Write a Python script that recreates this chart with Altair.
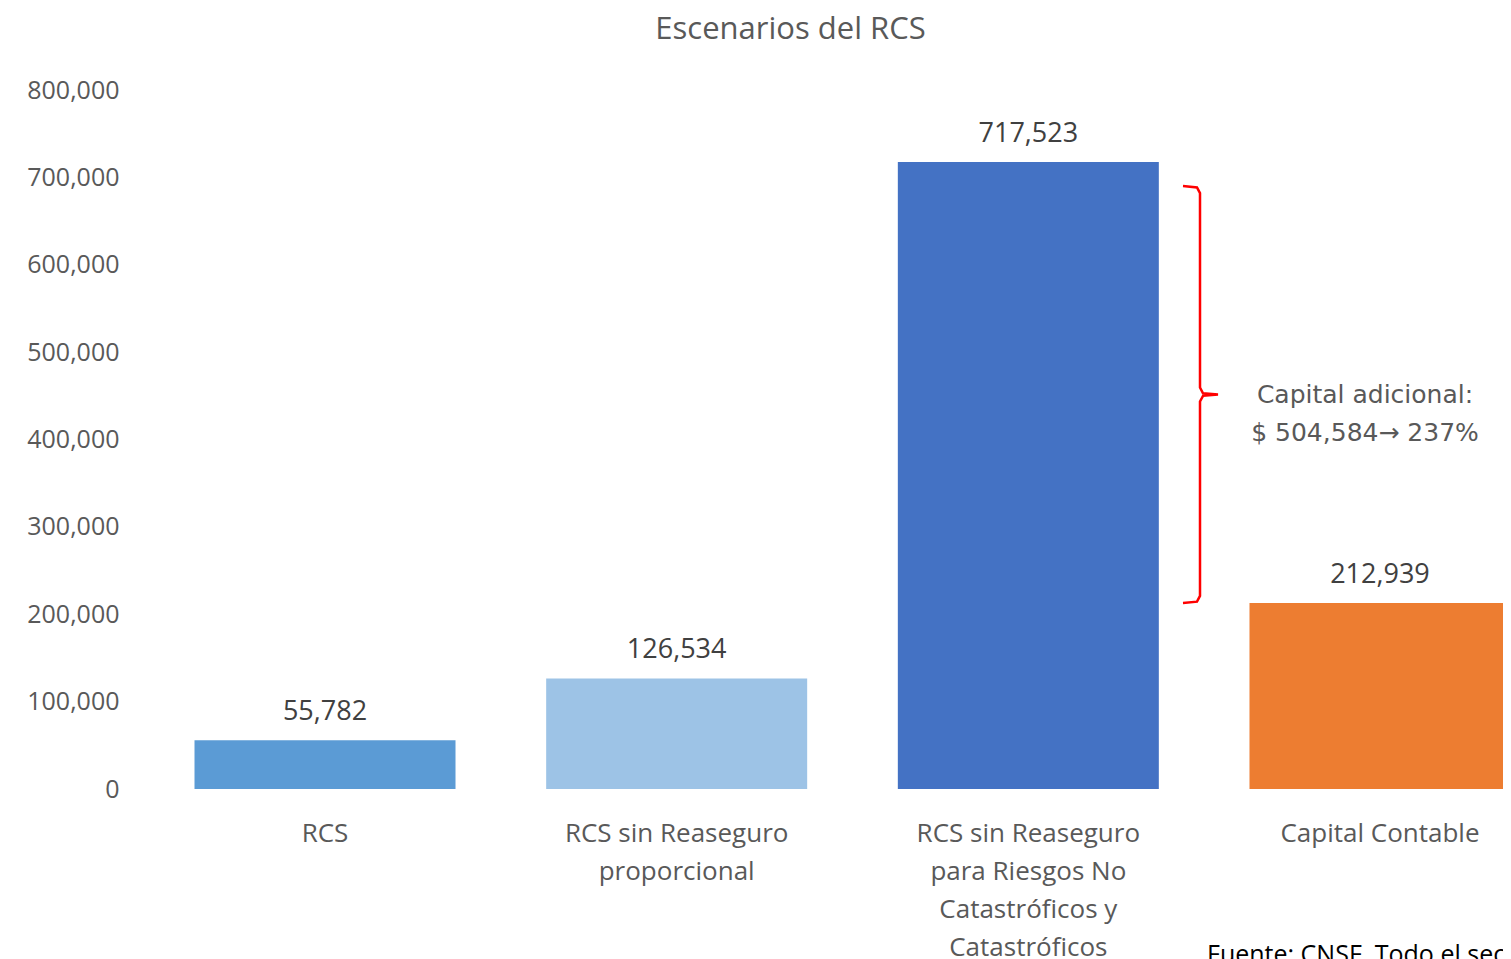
import altair as alt
import pandas as pd

# ---- data ----
categories = [
    "RCS",
    "RCS sin Reaseguro\nproporcional",
    "RCS sin Reaseguro\npara Riesgos No\nCatastróficos y\nCatastróficos",
    "Capital Contable",
]
values = [55782, 126534, 717523, 212939]
bar_colors = ["#5B9BD5", "#9DC3E6", "#4472C4", "#ED7D31"]
y_ticks = [0, 100000, 200000, 300000, 400000, 500000, 600000, 700000, 800000]

# annotation (bracket) extent in data units
brace_top = 690000
brace_bottom = values[3]
brace_mid = (brace_top + brace_bottom) / 2
extra = values[2] - values[3]
pct = extra / values[3] * 100
note_lines = ["Capital adicional:", f"$ {extra:,.0f}\u2192 {pct:.0f}%"]
source_text = "Fuente: CNSF, Todo el sector"

FONT = "Open Sans"
W_VIS, H = 1363, 699     # visible plot area (the chart is cropped on the right like the source)
X_RANGE = 1425           # full band range (last band partly beyond the crop)

df = pd.DataFrame({"cat": categories, "val": values, "color": bar_colors})

x = alt.X(
    "cat:N",
    sort=categories,
    title=None,
    scale=alt.Scale(paddingInner=0.2578, paddingOuter=0.155, range=[0, X_RANGE]),
    axis=alt.Axis(
        labelAngle=0,
        labelExpr="split(datum.label, '\\n')",
        labelFont=FONT,
        labelFontSize=26,
        labelColor="#595959",
        labelLineHeight=38,
        labelPadding=31,
        labelBaseline="top",
        domain=False,
        ticks=False,
        tickSize=0,
        labelLimit=400,
    ),
)
y = alt.Y(
    "val:Q",
    title=None,
    scale=alt.Scale(domain=[0, 800000], nice=False),
    axis=alt.Axis(
        values=y_ticks,
        labelExpr="format(datum.value, ',')",
        labelFont=FONT,
        labelFontSize=25,
        labelColor="#595959",
        labelPadding=21,
        domain=False,
        ticks=False,
        tickSize=0,
        grid=False,
    ),
)

base = alt.Chart(df)
bars = base.mark_bar().encode(
    x=x, y=y, color=alt.Color("color:N", scale=None, legend=None)
)
labels = base.mark_text(
    font=FONT, fontSize=27, color="#404040", baseline="alphabetic", dy=-20
).encode(x=x, y=y, text=alt.Text("val:Q", format=","))
main = alt.layer(bars, labels)

# bracket drawn as a line (x in plot pixels on an independent scale, y in data units)
off = 8000
bx = [1043, 1057, 1060, 1060, 1063, 1078, 1063, 1060, 1060, 1057, 1043]
by = [
    brace_top, brace_top - 1500, brace_top - off, brace_mid + off, brace_mid + 1500,
    brace_mid, brace_mid - 1500, brace_mid - off, brace_bottom + off,
    brace_bottom + 1500, brace_bottom,
]
brace_df = pd.DataFrame({"bx": bx, "val": by, "o": list(range(len(bx)))})
brace = alt.Chart(brace_df).mark_line(color="#FF0000", strokeWidth=2.5).encode(
    x=alt.X("bx:Q", scale=alt.Scale(domain=[0, W_VIS], nice=False, zero=False), axis=None),
    y=y,
    order="o:Q",
)

note = alt.Chart(pd.DataFrame({"val": [brace_mid]})).mark_text(
    text=note_lines, font="DejaVu Sans", fontSize=25, color="#595959",
    align="center", baseline="middle", lineHeight=38,
).encode(x=alt.value(1225), y=y)

source = alt.Chart(pd.DataFrame({"t": [source_text]})).mark_text(
    font=FONT, fontSize=25, color="#000000", align="left", baseline="top",
).encode(x=alt.value(1067), y=alt.value(H + 154), text="t:N")

chart = (
    alt.layer(main, brace, note, source)
    .resolve_scale(x="independent", y="shared")
    .properties(
        width=W_VIS,
        height=H,
        autosize=alt.AutoSizeParams(type="none"),
        padding={"left": 132, "top": 82, "right": 0, "bottom": 200},
        title=alt.TitleParams(
            "Escenarios del RCS", font=FONT, fontSize=31, color="#595959",
            fontWeight="normal", offset=32, dx=-31, anchor="middle",
        ),
    )
    .configure_view(stroke=None)
)

chart.save("out.html", embed_options={"renderer": "svg", "actions": False})
